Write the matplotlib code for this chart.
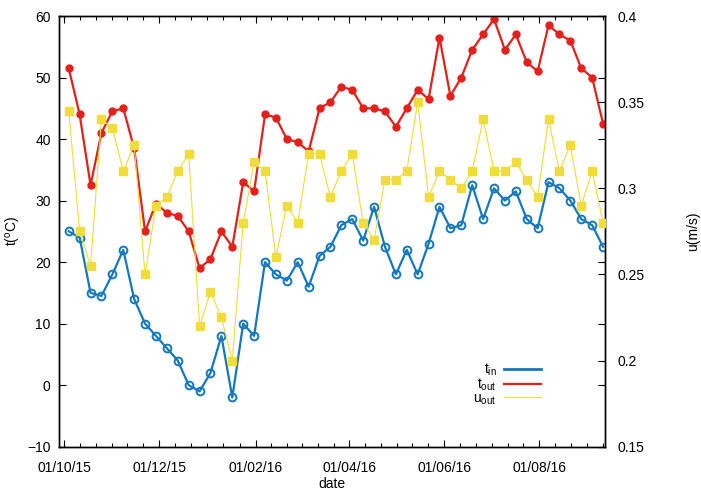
import datetime as dt
import numpy as np
import matplotlib
matplotlib.use("Agg")
import matplotlib.pyplot as plt
import matplotlib.dates as mdates
from matplotlib.lines import Line2D
from matplotlib.ticker import FixedLocator

plt.rcParams['font.family'] = ['Liberation Sans', 'DejaVu Sans']
plt.rcParams['mathtext.fontset'] = 'custom'
plt.rcParams['mathtext.rm'] = 'Liberation Sans'
plt.rcParams['mathtext.it'] = 'Liberation Sans'

# ---- data ----
start_date = dt.datetime(2015, 10, 4)
n_weeks = 50
dates = [start_date + dt.timedelta(days=7 * i) for i in range(n_weeks)]

t_in = [25, 24, 15, 14.5, 18, 22, 14, 10, 8, 6,
        4, 0, -1, 2, 8, -2, 10, 8, 20, 18,
        17, 20, 16, 21, 22.5, 26, 27, 23.5, 29, 22.5,
        18, 22, 18, 23, 29, 25.5, 26, 32.5, 27, 32,
        30, 31.5, 27, 25.5, 33, 32, 30, 27, 26, 22.5]

t_out = [51.5, 44, 32.5, 41, 44.5, 45, 38.5, 25, 29.5, 28,
         27.5, 25, 19, 20.5, 25, 22.5, 33, 31.5, 44, 43.5,
         40, 39.5, 38, 45, 46, 48.5, 48, 45, 45, 44.5,
         42, 45, 48, 46.5, 56.5, 47, 50, 54.5, 57, 59.5,
         54.5, 57, 52.5, 51, 58.5, 57, 56, 51.5, 50, 42.5]

u_out = [0.345, 0.275, 0.255, 0.34, 0.335, 0.31, 0.325, 0.25, 0.29, 0.295,
         0.31, 0.32, 0.22, 0.24, 0.225, 0.2, 0.28, 0.315, 0.31, 0.26,
         0.29, 0.28, 0.32, 0.32, 0.295, 0.31, 0.32, 0.28, 0.27, 0.305,
         0.305, 0.31, 0.35, 0.295, 0.31, 0.305, 0.30, 0.31, 0.34, 0.31,
         0.31, 0.315, 0.305, 0.295, 0.34, 0.31, 0.325, 0.29, 0.31, 0.28]

y1_ticks = [-10, 0, 10, 20, 30, 40, 50, 60]
y2_ticks = [0.15, 0.2, 0.25, 0.3, 0.35, 0.4]
y2_labels = ['0.15', '0.2', '0.25', '0.3', '0.35', '0.4']

c_in = '#1578bd'
c_out = '#e3211c'
c_u = '#f0dc3a'

fig = plt.figure(figsize=(7.01, 4.91), dpi=100)
ax = fig.add_axes([59 / 701, 1 - 446.7 / 491, (605 - 59) / 701, (446.7 - 16) / 491])
ax2 = ax.twinx()

ax.plot(dates, t_in, color=c_in, lw=1.6, marker='o', ms=5.6, mfc='none',
        mec=c_in, mew=1.4, zorder=3)
ax.plot(dates, t_out, color=c_out, lw=1.6, marker='o', ms=5.0, mfc=c_out,
        mec=c_out, zorder=4)
ax2.plot(dates, u_out, color=c_u, lw=0.8, marker='s', ms=5.2, mfc=c_u,
         mec=c_u, zorder=5)

ax.set_ylim(-10, 60)
ax2.set_ylim(0.15, 0.4)
ax.set_xlim(dt.datetime(2015, 9, 27, 18), dt.datetime(2016, 9, 12, 6))

ax.set_yticks(y1_ticks)
ax2.set_yticks(y2_ticks)
ax2.set_yticklabels(y2_labels)

major_dates = [dt.datetime(2015, 10, 1), dt.datetime(2015, 12, 1),
               dt.datetime(2016, 2, 1), dt.datetime(2016, 4, 1),
               dt.datetime(2016, 6, 1), dt.datetime(2016, 8, 1),
               dt.datetime(2016, 10, 1)]
major_num = mdates.date2num(major_dates)
minor = []
for a, b in zip(major_num[:-1], major_num[1:]):
    for k in range(1, 6):
        minor.append(a + (b - a) * k / 6)
ax.xaxis.set_major_locator(FixedLocator(major_num[:-1]))
ax.xaxis.set_minor_locator(FixedLocator(minor))
ax.xaxis.set_major_formatter(mdates.DateFormatter('%d/%m/%y'))

fs = 10
ax.tick_params(axis='both', which='major', direction='in', length=5, width=0.8,
               labelsize=fs, top=True, right=True, colors='black')
ax.tick_params(axis='x', which='major', pad=10)
ax.tick_params(axis='y', which='major', pad=6)
ax.tick_params(axis='x', which='minor', direction='in', length=3, width=0.8,
               top=True)
ax.tick_params(axis='y', which='both', right=True, labelright=False)
ax2.tick_params(axis='y', which='major', direction='in', length=5, width=0.8,
                labelsize=fs, pad=9)
for a in (ax, ax2):
    for s in a.spines.values():
        s.set_linewidth(1.0)

ax.set_xlabel('date', fontsize=fs, labelpad=1.5)
ax.set_ylabel('t($^{\\rm o}$C)', fontsize=fs, labelpad=3)
ax2.set_ylabel('u(m/s)', fontsize=fs, labelpad=30)

handles = [Line2D([], [], color=c_in, lw=2.0),
           Line2D([], [], color=c_out, lw=1.6),
           Line2D([], [], color=c_u, lw=0.8)]
labels = ['t$_{\\rm in}$', 't$_{\\rm out}$', 'u$_{\\rm out}$']
leg = ax2.legend(handles, labels, loc='lower right', bbox_to_anchor=(0.893, 0.08),
                 frameon=False, markerfirst=False, fontsize=fs,
                 handlelength=2.7, handletextpad=0.5, labelspacing=-0.12,
                 borderaxespad=0)

fig.savefig('out.png', dpi=100)
